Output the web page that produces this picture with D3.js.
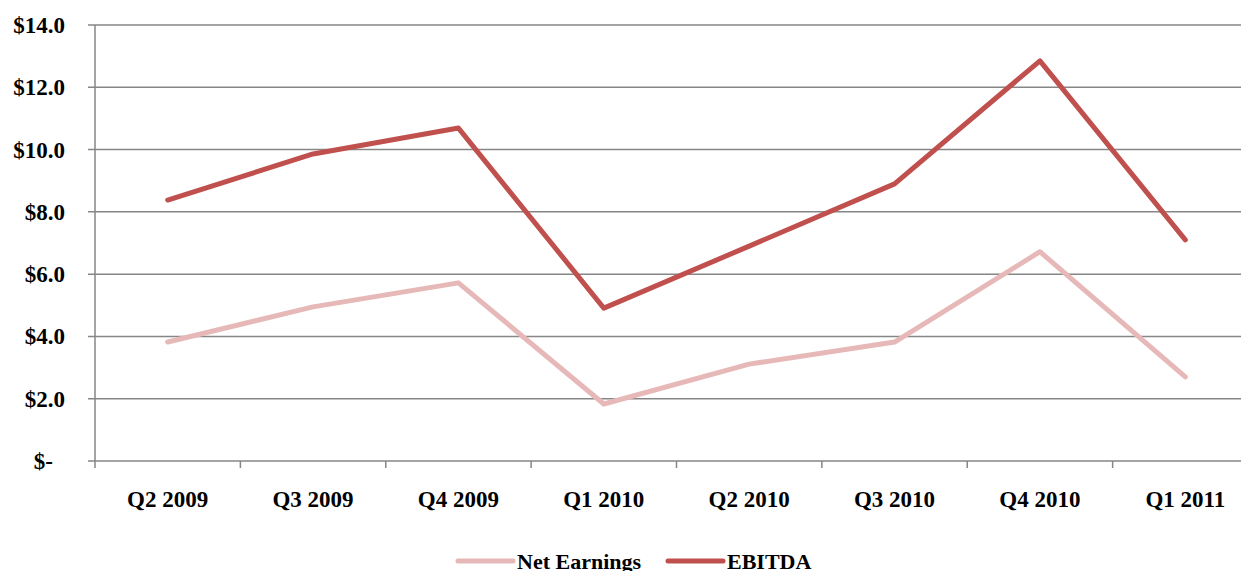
<!DOCTYPE html>
<html>
<head>
<meta charset="utf-8">
<script src="https://cdn.jsdelivr.net/npm/d3@7"></script>
<style>
  body { margin: 0; background: #fff; }
  svg text { font-family: "Liberation Serif", "Times New Roman", serif; font-weight: bold; fill: #000; }
</style>
</head>
<body>
<script>
var quarters = ["Q2 2009", "Q3 2009", "Q4 2009", "Q1 2010", "Q2 2010", "Q3 2010", "Q4 2010", "Q1 2011"];
var netEarnings = [3.82, 4.95, 5.72, 1.83, 3.11, 3.82, 6.72, 2.70];
var ebitda = [8.38, 9.86, 10.69, 4.91, 6.90, 8.90, 12.85, 7.10];
var yTicks = [0, 2, 4, 6, 8, 10, 12, 14];
var seriesNames = ["Net Earnings", "EBITDA"];
var seriesColors = ["#e6b9b8", "#c0504d"];

var chartW = 1241, chartH = 571;
var plotLeft = 95, plotRight = 1258, plotTop = 25, plotBottom = 461;

var svg = d3.select("body").append("svg")
    .attr("width", chartW)
    .attr("height", chartH);

var x = d3.scaleBand().domain(quarters).range([plotLeft, plotRight]).padding(0);
var y = d3.scaleLinear().domain([0, 14]).range([plotBottom, plotTop]);

// grid lines
svg.append("g")
    .selectAll("line")
    .data(yTicks)
    .enter()
    .append("line")
    .attr("x1", plotLeft - 7)
    .attr("x2", chartW)
    .attr("y1", function(d){ return y(d); })
    .attr("y2", function(d){ return y(d); })
    .attr("stroke", "#868686")
    .attr("stroke-width", 1.5);

// y axis line
svg.append("line")
    .attr("x1", plotLeft).attr("x2", plotLeft)
    .attr("y1", plotTop).attr("y2", plotBottom + 7)
    .attr("stroke", "#868686")
    .attr("stroke-width", 1.5);

// x tick marks at band boundaries
svg.append("g")
    .selectAll("line")
    .data(quarters.slice(1))
    .enter()
    .append("line")
    .attr("x1", function(d){ return x(d); })
    .attr("x2", function(d){ return x(d); })
    .attr("y1", plotBottom)
    .attr("y2", plotBottom + 7)
    .attr("stroke", "#868686")
    .attr("stroke-width", 1.5);

// y labels
svg.append("g")
    .selectAll("text")
    .data(yTicks)
    .enter()
    .append("text")
    .attr("x", function(d){ return d === 0 ? 53 : 65; })
    .attr("y", function(d){ return y(d) + 8; })
    .attr("text-anchor", "end")
    .style("font-size", "23px")
    .text(function(d){ return d === 0 ? "$-" : "$" + d.toFixed(1); });

// x labels
svg.append("g")
    .selectAll("text")
    .data(quarters)
    .enter()
    .append("text")
    .attr("x", function(d){ return x(d) + x.bandwidth() / 2; })
    .attr("y", 507)
    .attr("text-anchor", "middle")
    .style("font-size", "23px")
    .text(function(d){ return d; });

var line = d3.line()
    .x(function(d, i){ return x(quarters[i]) + x.bandwidth() / 2; })
    .y(function(d){ return y(d); });

[netEarnings, ebitda].forEach(function(s, i){
    svg.append("path")
        .datum(s)
        .attr("d", line)
        .attr("fill", "none")
        .attr("stroke", seriesColors[i])
        .attr("stroke-width", 5)
        .attr("stroke-linejoin", "round")
        .attr("stroke-linecap", "round");
});

// legend (cut off at the bottom edge, as in the original)
var legendX = [458, 668];
seriesNames.forEach(function(name, i){
    svg.append("line")
        .attr("x1", legendX[i]).attr("x2", legendX[i] + 55)
        .attr("y1", 561).attr("y2", 561)
        .attr("stroke", seriesColors[i])
        .attr("stroke-width", 5)
        .attr("stroke-linecap", "round");
    svg.append("text")
        .attr("x", legendX[i] + 59)
        .attr("y", 569)
        .style("font-size", "22px")
        .text(name);
});
</script>
</body>
</html>
